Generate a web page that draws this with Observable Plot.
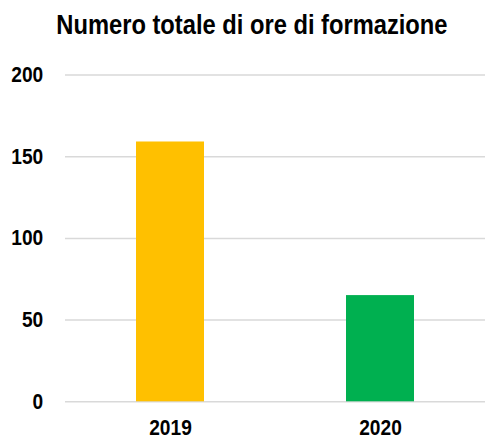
<!DOCTYPE html>
<html>
<head>
<meta charset="utf-8">
<script src="https://cdn.jsdelivr.net/npm/d3@7"></script>
<script src="https://cdn.jsdelivr.net/npm/@observablehq/plot@0.6"></script>
<style>
  body { margin: 0; background: #fff; }
  #title {
    height: 50px; width: 485px; text-align: center; overflow: hidden;
    font-family: "Liberation Sans", Arial, sans-serif;
    font-weight: bold; font-size: 27.5px; line-height: 50px; color: #000;
    padding-left: 19px; box-sizing: border-box; white-space: nowrap;
  }
  #title span { display: inline-block; transform: scaleX(0.862); transform-origin: center; }
</style>
</head>
<body>
<div id="title"><span>Numero totale di ore di formazione</span></div>
<div id="chart"></div>
<script>
const years = ["2019", "2020"];
const hours = [159, 65];
const colors = ["#FFC000", "#00B050"];
const yTicks = [0, 50, 100, 150, 200];

const data = years.map((y, i) => ({year: y, value: hours[i], color: colors[i]}));

const font = `"Liberation Sans", Arial, sans-serif`;

const chart = Plot.plot({
  width: 485,
  height: 391,
  marginLeft: 65,
  marginRight: 0,
  marginTop: 24.5,
  marginBottom: 39.7,
  style: {fontFamily: font, fontSize: "22px", fontWeight: "bold", color: "#000", background: "#fff"},
  x: {domain: years, paddingInner: 0.675, paddingOuter: 0.334, label: null},
  y: {domain: [0, 200], ticks: yTicks, label: null},
  marks: [
    Plot.ruleY(yTicks, {stroke: "#d9d9d9", strokeWidth: 1.5}),
    Plot.barY(data, {x: "year", y: "value", fill: "color"}),
    Plot.axisY({ticks: yTicks, tickSize: 0, tickPadding: 22.3, label: null, fontSize: 22}),
    Plot.axisX({tickSize: 0, tickPadding: 18, label: null, fontSize: 22})
  ]
});

// Condense the axis label glyphs horizontally around their anchors
chart.querySelectorAll('g[aria-label$="tick label"] text').forEach(t => {
  const tr = t.getAttribute("transform");
  if (tr) {
    t.setAttribute("transform", tr + " scale(0.87,1)");
  } else {
    const x = +(t.getAttribute("x") || 0), y = +(t.getAttribute("y") || 0);
    t.removeAttribute("x"); t.removeAttribute("y");
    t.setAttribute("transform", `translate(${x},${y}) scale(0.87,1)`);
  }
});
document.getElementById("chart").appendChild(chart);
</script>
</body>
</html>
